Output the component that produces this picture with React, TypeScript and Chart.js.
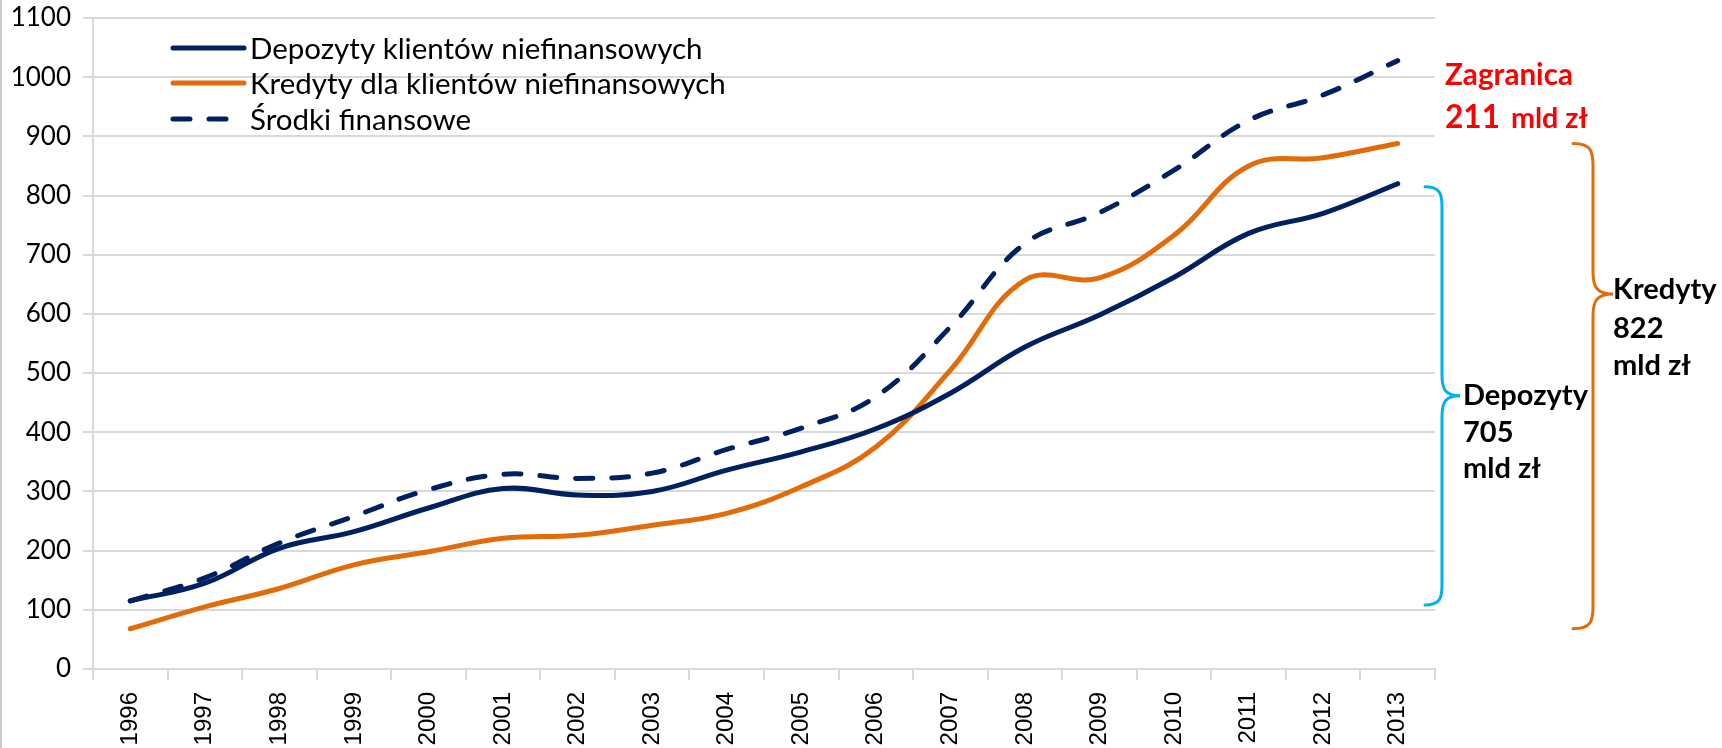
import React, { useEffect, useRef } from 'react';
import { Chart, registerables } from 'chart.js';

Chart.register(...registerables);

const YEARS = ['1996', '1997', '1998', '1999', '2000', '2001', '2002', '2003', '2004', '2005', '2006', '2007', '2008', '2009', '2010', '2011', '2012', '2013'];
const DEPOZYTY = [115, 145, 204, 232, 272, 305, 294, 300, 336, 367, 406, 466, 544, 598, 662, 736, 770, 820];
const KREDYTY = [68, 105, 136, 176, 198, 221, 226, 243, 263, 308, 375, 505, 657, 661, 733, 850, 864, 888];
const SRODKI = [115, 154, 213, 258, 303, 329, 322, 331, 371, 407, 460, 578, 719, 771, 843, 927, 970, 1028];

const SERIES_NAMES = ['Depozyty klientów niefinansowych', 'Kredyty dla klientów niefinansowych', 'Środki finansowe'];
const Y_MIN = 0;
const Y_MAX = 1100;
const Y_STEP = 100;

const NAVY = '#002060';
const ORANGE = '#E36C0A';
const CYAN = '#00B0F0';
const RED = '#FF0000';
const DASH = [17, 19];

function fitSize(ctx: CanvasRenderingContext2D, text: string, weight: string, family: string, target: number) {
  ctx.font = `${weight} 100px ${family}`;
  const w = ctx.measureText(text).width;
  return (100 * target) / w;
}

function brace(ctx: CanvasRenderingContext2D, x0: number, x1: number, x2: number, top: number, mid: number, bottom: number, r: number) {
  ctx.beginPath();
  ctx.moveTo(x0, top);
  ctx.bezierCurveTo(x1 - 2, top, x1, top + r * 0.35, x1, top + r);
  ctx.lineTo(x1, mid - r);
  ctx.bezierCurveTo(x1, mid - r * 0.3, x1 + 4, mid, x2, mid);
  ctx.bezierCurveTo(x1 + 4, mid, x1, mid + r * 0.3, x1, mid + r);
  ctx.lineTo(x1, bottom - r);
  ctx.bezierCurveTo(x1, bottom - r * 0.35, x1 - 2, bottom, x0, bottom);
  ctx.stroke();
}

const overlayPlugin = {
  id: 'overlay',
  afterDraw(chart: any) {
    const ctx: CanvasRenderingContext2D = chart.ctx;
    const y = chart.scales.y;
    const area = chart.chartArea;
    ctx.save();

    // left border of the picture
    ctx.fillStyle = '#C5CBD3';
    ctx.fillRect(0, 0, 2, chart.height);

    // legend
    const lx0 = area.left + 80;
    const lx1 = area.left + 151;
    const tx = area.left + 157;
    const rows = [48, 83, 119];
    const legendSize = fitSize(ctx, SERIES_NAMES[1], 'normal', 'Lato', 476);
    const styles = [
      { color: NAVY, dash: [] as number[] },
      { color: ORANGE, dash: [] as number[] },
      { color: NAVY, dash: DASH },
    ];
    styles.forEach((s, i) => {
      ctx.beginPath();
      ctx.strokeStyle = s.color;
      ctx.lineWidth = 5;
      ctx.lineCap = 'round';
      ctx.setLineDash(s.dash);
      ctx.moveTo(lx0, rows[i]);
      ctx.lineTo(lx1, rows[i]);
      ctx.stroke();
      ctx.setLineDash([]);
      ctx.fillStyle = '#000';
      ctx.font = `normal ${legendSize}px Lato`;
      ctx.textBaseline = 'middle';
      ctx.textAlign = 'left';
      ctx.fillText(SERIES_NAMES[i], tx, rows[i] + 1);
    });

    // braces
    const last = YEARS.length - 1;
    ctx.lineWidth = 3;
    ctx.lineCap = 'round';
    ctx.strokeStyle = CYAN;
    const bTop = y.getPixelForValue(DEPOZYTY[last]) + 3;
    const bBot = y.getPixelForValue(DEPOZYTY[0]) + 4;
    const bMid = (bTop + bBot) / 2;
    brace(ctx, area.right - 10, area.right + 7, area.right + 25, bTop, bMid, bBot, 20);

    ctx.strokeStyle = ORANGE;
    const oTop = y.getPixelForValue(KREDYTY[last]);
    const oBot = y.getPixelForValue(KREDYTY[0]);
    const oMid = oTop + (oBot - oTop) * 0.31;
    brace(ctx, area.right + 138, area.right + 158, area.right + 178, oTop, oMid, oBot, 22);

    // texts
    ctx.textBaseline = 'alphabetic';
    ctx.textAlign = 'left';
    const boldSize = fitSize(ctx, 'Depozyty', 'bold', 'Lato', 125);
    ctx.fillStyle = '#000';
    ctx.font = `bold ${boldSize}px Lato`;
    const dx = area.right + 28;
    ctx.fillText('Depozyty', dx, bMid + 9);
    ctx.fillText('705', dx, bMid + 46);
    ctx.fillText('mld zł', dx, bMid + 82);

    const kx = area.right + 178;
    ctx.fillText('Kredyty', kx, oMid + 5);
    ctx.fillText('822', kx, oMid + 44);
    ctx.fillText('mld zł', kx, oMid + 81);

    ctx.fillStyle = RED;
    const zSize = fitSize(ctx, 'Zagranica', 'bold', 'Lato', 128);
    ctx.font = `bold ${zSize}px Lato`;
    const zx = area.right + 10;
    ctx.fillText('Zagranica', zx, 85);
    const nSize = fitSize(ctx, '211', 'bold', 'Lato', 55);
    ctx.font = `bold ${nSize}px Lato`;
    ctx.fillText('211', zx, 128);
    const mSize = fitSize(ctx, 'mld zł', 'bold', 'Lato', 77);
    ctx.font = `bold ${mSize}px Lato`;
    ctx.fillText('mld zł', zx + 66, 128);

    ctx.restore();
  },
};

export default function App() {
  const ref = useRef<HTMLCanvasElement>(null);

  useEffect(() => {
    document.body.style.margin = '0';
    const canvas = ref.current!;
    const chart = new Chart(canvas, {
      type: 'line',
      data: {
        labels: YEARS,
        datasets: [
          {
            label: SERIES_NAMES[0],
            data: DEPOZYTY,
            borderColor: NAVY,
            borderWidth: 5,
            pointRadius: 0,
            tension: 0.4,
            borderCapStyle: 'round',
            fill: false,
          },
          {
            label: SERIES_NAMES[1],
            data: KREDYTY,
            borderColor: ORANGE,
            borderWidth: 5,
            pointRadius: 0,
            tension: 0.4,
            borderCapStyle: 'round',
            fill: false,
          },
          {
            label: SERIES_NAMES[2],
            data: SRODKI,
            borderColor: NAVY,
            borderWidth: 5,
            borderDash: DASH,
            borderCapStyle: 'round',
            pointRadius: 0,
            tension: 0.4,
            fill: false,
          },
        ],
      },
      options: {
        responsive: false,
        maintainAspectRatio: false,
        animation: false,
        layout: { padding: { top: 18, right: 287, left: 0, bottom: 0 } },
        plugins: {
          legend: { display: false },
          tooltip: { enabled: false },
        },
        scales: {
          x: {
            type: 'category',
            offset: true,
            grid: {
              display: true,
              drawOnChartArea: false,
              drawTicks: true,
              tickLength: 11,
              color: '#D9D9D9',
              lineWidth: 2,
              offset: true,
            },
            border: { display: true, color: '#D9D9D9', width: 2 },
            ticks: {
              minRotation: 90,
              maxRotation: 90,
              autoSkip: false,
              padding: 12,
              color: '#000',
              font: { family: 'Liberation Sans', size: 24 },
            },
            afterFit: (s: any) => {
              s.height = 79;
            },
          },
          y: {
            min: Y_MIN,
            max: Y_MAX,
            ticks: {
              stepSize: Y_STEP,
              padding: 12,
              color: '#000',
              font: { family: 'Lato', size: 26 },
              callback: (v: any) => String(v),
            },
            grid: { color: '#D9D9D9', lineWidth: 2, tickLength: 10 },
            border: { color: '#D9D9D9', width: 2 },
            afterFit: (s: any) => {
              s.width = 93;
              s.paddingTop = 4;
              s.paddingBottom = 4;
            },
          },
        },
      } as any,
      plugins: [overlayPlugin],
    });
    return () => chart.destroy();
  }, []);

  return (
    <div style={{ width: 1722, height: 748, background: '#fff' }}>
      <canvas ref={ref} width={1722} height={748} style={{ display: 'block' }} />
    </div>
  );
}
